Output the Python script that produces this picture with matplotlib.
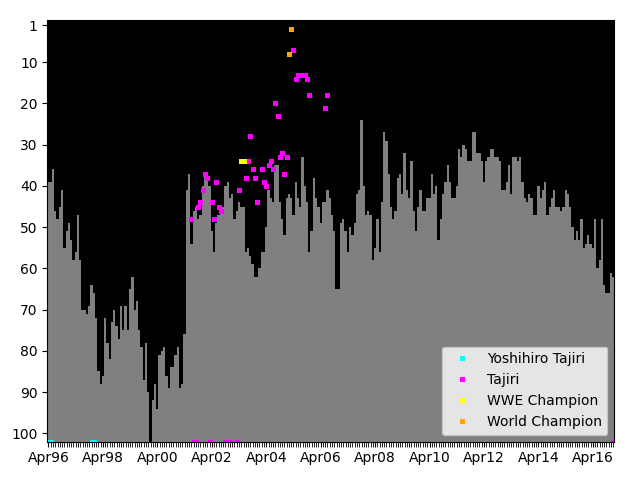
import matplotlib
matplotlib.use("Agg")
import matplotlib.pyplot as plt

UNRANKED = 102

# monthly rank of the gray bars, Apr96 .. Jan17
gray_rank = [
    39, 39, 36, 46, 48, 45, 41, 55, 51, 49, 53, 58, 56, 47, 58, 70, 70, 71, 69, 64, 66, 72, 85, 88, 86,
    72, 78, 82, 73, 70, 74, 77, 69, 75, 69, 75, 65, 62, 70, 68, 75,
    79, 87, 78, 90, 102, 92, 88, 94, 81, 80, 79, 86, 89, 84, 84, 81, 79, 89, 88, 76, 41, 37, 54, 46,
    45, 48, 47, 40, 37, 38, 40, 51, 56, 49, 47, 46, 45, 40, 39, 43, 42, 48,
    46, 44, 45, 45, 56, 55, 57, 59, 62, 62, 60, 56, 56, 50, 41, 43, 44, 35, 35, 44, 48, 52, 43, 42,
    43, 47, 39, 43, 45, 33, 40, 44, 56, 51, 38, 43, 45, 49, 44, 44, 41, 43,
    47, 51, 65, 65, 49, 48, 51, 56, 50, 52, 49, 42, 41, 24, 40, 47, 46, 47, 58, 55, 48, 56, 44, 27,
    29, 37, 45, 48, 46, 38, 37, 42, 32, 41, 43, 34, 46, 51, 45, 41, 46, 46,
    43, 43, 37, 42, 40, 53, 48, 42, 39, 35, 39, 43, 43, 40, 31, 33, 30, 31, 34, 34, 27, 27, 32, 32,
    34, 39, 34, 33, 31, 31, 33, 33, 34, 41, 41, 39, 35, 42, 33, 33, 34, 33,
    39, 43, 44, 42, 43, 47, 47, 40, 43, 41, 39, 47, 45, 43, 41, 45, 45, 46, 45, 41, 42, 45, 50, 53,
    51, 53, 48, 55, 54, 52, 54, 55, 48, 60, 58, 48, 64, 66, 66, 61, 62,
]

yoshihiro_month = [0, 1, 19, 20]
yoshihiro_rank = [102, 102, 102, 102]

tajiri_month = [63, 64, 65, 66, 67, 68, 69, 70, 71, 72, 73, 74, 75, 76, 78, 79, 80, 83, 84, 87,
                88, 89, 90, 91, 92, 94, 95, 96, 97, 98, 99, 100, 101, 102, 103, 104, 105, 108,
                109, 110, 111, 112, 113, 114, 115, 122, 123, 249]
tajiri_rank = [48, 102, 102, 45, 44, 41, 37, 38, 102, 44, 48, 39, 45, 46, 102, 102, 102, 102, 41, 38,
               34, 28, 36, 38, 44, 36, 39, 40, 35, 34, 36, 20, 23, 33, 32, 37, 33, 7,
               14, 13, 13, 13, 13, 14, 18, 21, 18, 102]

wwe_month = [85, 86]
wwe_rank = [34, 34]

world_month = [106, 107]
world_rank = [8, 2]

tick_months = [0, 24, 48, 72, 96, 120, 144, 168, 192, 216, 240]
tick_labels = ["Apr96", "Apr98", "Apr00", "Apr02", "Apr04", "Apr06",
               "Apr08", "Apr10", "Apr12", "Apr14", "Apr16"]
ytick_vals = [1, 10, 20, 30, 40, 50, 60, 70, 80, 90, 100]

n = len(gray_rank)
months = list(range(n))

fig, ax = plt.subplots(figsize=(6.4, 4.8), dpi=100)
fig.subplots_adjust(left=0.074, right=0.96, top=0.958, bottom=0.08)
ax.set_facecolor("black")

ax.bar(months, [110 - r for r in gray_rank], bottom=gray_rank, width=1.0,
       color="gray", linewidth=0)

mk = dict(marker="s", linestyle="none", ms=3.6, mew=0)
ax.plot(yoshihiro_month, yoshihiro_rank, color="cyan", label="Yoshihiro Tajiri", **mk)
ax.plot(tajiri_month, tajiri_rank, color="magenta", label="Tajiri", **mk)
ax.plot(wwe_month, wwe_rank, color="yellow", label="WWE Champion", **mk)
ax.plot(world_month, world_rank, color="orange", label="World Champion", **mk)

ax.set_xlim(-0.5, n - 0.5)
ax.set_ylim(UNRANKED, -0.2)
ax.set_yticks(ytick_vals)
ax.set_xticks(tick_months)
ax.set_xticklabels(tick_labels)
ax.set_xticks(months, minor=True)
ax.tick_params(axis="x", which="minor", length=3.5)

ax.legend(loc="lower right")
fig.savefig("out.png")
